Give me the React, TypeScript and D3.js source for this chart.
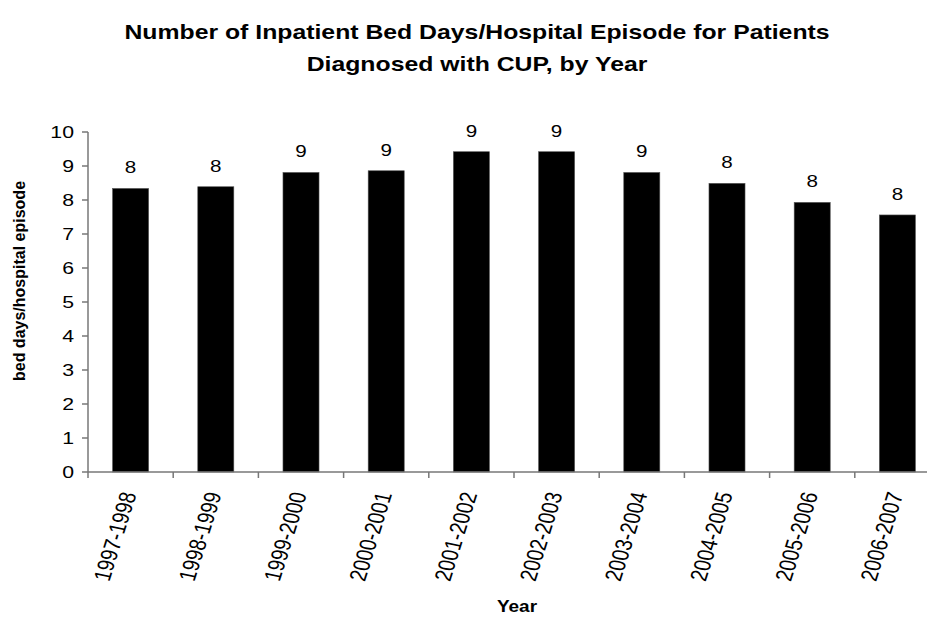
import React from "react";
import * as d3 from "d3";

const categories = [
  "1997-1998", "1998-1999", "1999-2000", "2000-2001", "2001-2002",
  "2002-2003", "2003-2004", "2004-2005", "2005-2006", "2006-2007",
];
const values = [8.34, 8.39, 8.81, 8.86, 9.42, 9.42, 8.81, 8.49, 7.93, 7.56];
const yTicks = [0, 1, 2, 3, 4, 5, 6, 7, 8, 9, 10];
const titleLines = [
  "Number of Inpatient Bed Days/Hospital Episode for Patients",
  "Diagnosed with CUP, by Year",
];
const xTitle = "Year";
const yTitle = "bed days/hospital episode";

const W = 927;
const H = 617;
const FONT = "'Liberation Sans', Arial, Helvetica, sans-serif";
const SX = 1.25;

export default function App() {
  const pad = 0.577;
  const x = d3
    .scaleBand<string>()
    .domain(categories)
    .range([88, 940])
    .paddingInner(pad)
    .paddingOuter(pad / 2);
  const y = d3.scaleLinear().domain([0, 10]).range([472, 132]);
  const step = x.step();
  const fmt = d3.format(".0f");
  const axisColor = "#777";

  const boundaries = categories.map((c) => (x(c) as number) - (step * pad) / 2);
  boundaries.push(boundaries[boundaries.length - 1] + step);

  return (
    <svg
      width={W}
      height={H}
      style={{ position: "absolute", left: 0, top: 0, background: "#fff" }}
      fontFamily={FONT}
    >
      <rect x={0} y={0} width={W} height={H} fill="#fff" />
      {/* title */}
      {titleLines.map((t, i) => (
        <text
          key={i}
          transform={`translate(477,${39 + i * 32}) scale(1.24,1)`}
          textAnchor="middle"
          fontSize={20}
          fontWeight="bold"
          fill="#000"
        >
          {t}
        </text>
      ))}

      {/* bars */}
      {categories.map((c, i) => (
        <rect
          key={c}
          x={x(c)}
          y={y(values[i])}
          width={x.bandwidth()}
          height={y(0) - y(values[i])}
          fill="#000"
          stroke="#555"
          strokeWidth={0.6}
        />
      ))}

      {/* data labels */}
      {categories.map((c, i) => (
        <text
          key={c}
          transform={`translate(${(x(c) as number) + x.bandwidth() / 2},${y(values[i]) - 15}) scale(${SX},1)`}
          textAnchor="middle"
          fontSize={16.5}
          fill="#000"
        >
          {fmt(values[i])}
        </text>
      ))}

      {/* y axis */}
      <line x1={88} x2={88} y1={y(10)} y2={y(0)} stroke={axisColor} strokeWidth={1.5} />
      {yTicks.map((t) => (
        <g key={t}>
          <line x1={82} x2={88} y1={y(t)} y2={y(t)} stroke={axisColor} strokeWidth={1.5} />
          <text
            transform={`translate(74,${y(t) + 6}) scale(${SX},1)`}
            textAnchor="end"
            fontSize={17}
            fill="#000"
          >
            {t}
          </text>
        </g>
      ))}

      {/* x axis */}
      <line x1={88} x2={W} y1={y(0)} y2={y(0)} stroke={axisColor} strokeWidth={1.5} />
      {boundaries.map((b, i) => (
        <line key={i} x1={b} x2={b} y1={y(0)} y2={y(0) + 6} stroke={axisColor} strokeWidth={1.5} />
      ))}
      {categories.map((c) => (
        <text
          key={c}
          transform={`translate(${(x(c) as number) + x.bandwidth() / 2 + 6},${494}) scale(${SX},1) rotate(-76)`}
          textAnchor="end"
          fontSize={19}
          fill="#000"
        >
          {c}
        </text>
      ))}

      {/* axis titles */}
      <text
        transform={`translate(517,612) scale(1.15,1)`}
        textAnchor="middle"
        fontSize={16.5}
        fontWeight="bold"
        fill="#000"
      >
        {xTitle}
      </text>
      <text
        transform={`translate(25,281) rotate(-90)`}
        textAnchor="middle"
        fontSize={16}
        fontWeight="bold"
        fill="#000"
      >
        {yTitle}
      </text>
    </svg>
  );
}
